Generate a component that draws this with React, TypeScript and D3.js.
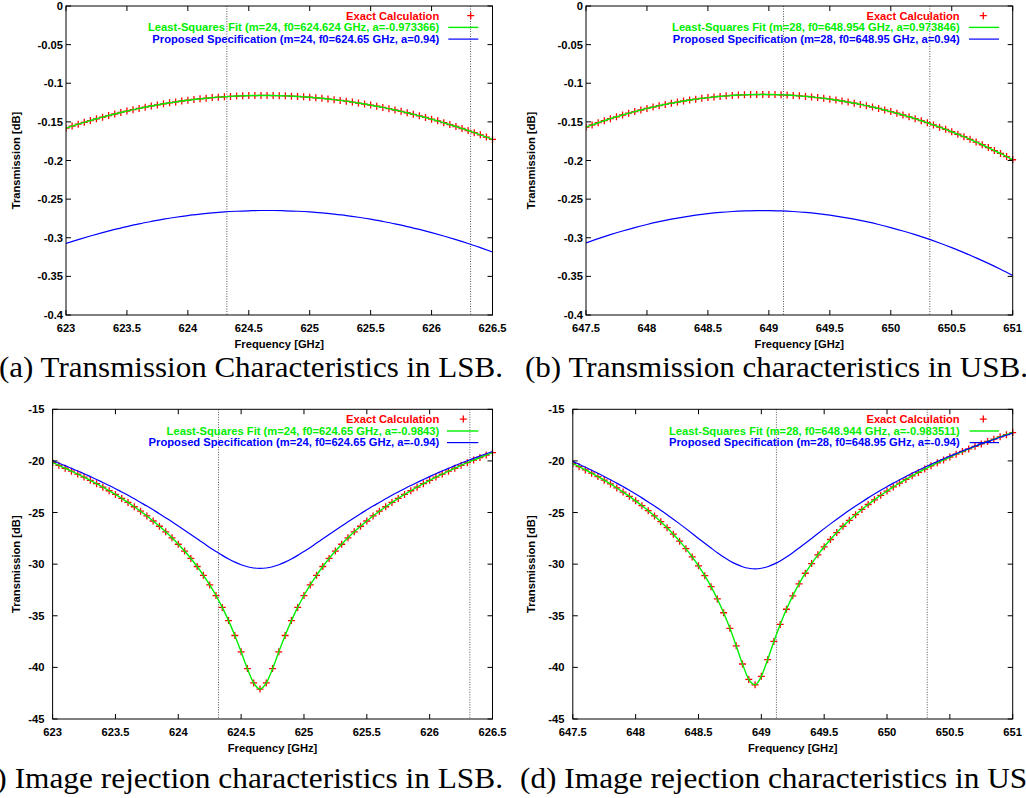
import React from 'react';
import * as d3 from 'd3';

const W = 1026;
const H = 798;
const SANS = "'Liberation Sans', Arial, Helvetica, sans-serif";
const SERIF = "'Liberation Serif', 'Times New Roman', serif";

// ---- tick labels / categories ----
const xTicksLSB = [623, 623.5, 624, 624.5, 625, 625.5, 626, 626.5];
const xTicksUSB = [647.5, 648, 648.5, 649, 649.5, 650, 650.5, 651];
const yTicksTrans = [0, -0.05, -0.1, -0.15, -0.2, -0.25, -0.3, -0.35, -0.4];
const yTicksRej = [-15, -20, -25, -30, -35, -40, -45];
const bandLSB = [624.32, 626.32];
const bandUSB = [649.12, 650.32];

// frequency grids (GHz): 0.05 GHz sampling for the exact calculation, 0.1 GHz for the spec lines of (a),(b)
const freqLSB = d3.range(71).map((i) => +(623 + i * 0.05).toFixed(2));
const freqUSB = d3.range(71).map((i) => +(647.5 + i * 0.05).toFixed(2));
const freqLSBc = d3.range(36).map((i) => +(623 + i * 0.1).toFixed(2));
const freqUSBc = d3.range(36).map((i) => +(647.5 + i * 0.1).toFixed(2));

// ---- (a) Transmission in LSB [dB] ----
const transLSBExact = [
  -0.1581, -0.1555, -0.1530, -0.1506, -0.1483, -0.1460, -0.1439, -0.1418, -0.1398, -0.1378,
  -0.1360, -0.1342, -0.1326, -0.1310, -0.1294, -0.1280, -0.1266, -0.1253, -0.1242, -0.1230,
  -0.1220, -0.1210, -0.1202, -0.1194, -0.1186, -0.1180, -0.1175, -0.1170, -0.1166, -0.1163,
  -0.1160, -0.1159, -0.1158, -0.1158, -0.1159, -0.1161, -0.1163, -0.1167, -0.1171, -0.1176,
  -0.1181, -0.1188, -0.1195, -0.1203, -0.1212, -0.1222, -0.1232, -0.1244, -0.1256, -0.1269,
  -0.1283, -0.1297, -0.1313, -0.1329, -0.1346, -0.1364, -0.1382, -0.1402, -0.1422, -0.1443,
  -0.1465, -0.1487, -0.1511, -0.1535, -0.1560, -0.1586, -0.1612, -0.1640, -0.1668, -0.1697,
  -0.1727,
];
const transLSBFit = transLSBExact;
const transLSBSpec = [
  -0.3074, -0.3024, -0.2977, -0.2933, -0.2892, -0.2855, -0.2820, -0.2789, -0.2760, -0.2735,
  -0.2713, -0.2695, -0.2679, -0.2666, -0.2657, -0.2651, -0.2647, -0.2647, -0.2651, -0.2657,
  -0.2666, -0.2679, -0.2695, -0.2713, -0.2735, -0.2760, -0.2789, -0.2820, -0.2855, -0.2892,
  -0.2933, -0.2977, -0.3024, -0.3074, -0.3128, -0.3184,
];

// ---- (b) Transmission in USB [dB] ----
const transUSBExact = [
  -0.1568, -0.1539, -0.1511, -0.1485, -0.1459, -0.1434, -0.1411, -0.1388, -0.1367, -0.1346,
  -0.1326, -0.1308, -0.1290, -0.1274, -0.1258, -0.1244, -0.1230, -0.1217, -0.1206, -0.1195,
  -0.1186, -0.1177, -0.1170, -0.1163, -0.1158, -0.1153, -0.1150, -0.1147, -0.1146, -0.1145,
  -0.1146, -0.1147, -0.1150, -0.1153, -0.1158, -0.1163, -0.1170, -0.1177, -0.1186, -0.1195,
  -0.1206, -0.1217, -0.1230, -0.1244, -0.1258, -0.1274, -0.1290, -0.1308, -0.1326, -0.1346,
  -0.1367, -0.1388, -0.1411, -0.1434, -0.1459, -0.1485, -0.1511, -0.1539, -0.1568, -0.1597,
  -0.1628, -0.1660, -0.1692, -0.1726, -0.1761, -0.1796, -0.1833, -0.1871, -0.1909, -0.1949,
  -0.1990,
];
const transUSBFit = transUSBExact;
const transUSBSpec = [
  -0.3068, -0.3012, -0.2960, -0.2912, -0.2868, -0.2828, -0.2792, -0.2760, -0.2732, -0.2708,
  -0.2688, -0.2672, -0.2660, -0.2652, -0.2648, -0.2648, -0.2652, -0.2660, -0.2672, -0.2688,
  -0.2708, -0.2732, -0.2760, -0.2792, -0.2828, -0.2868, -0.2912, -0.2960, -0.3012, -0.3068,
  -0.3128, -0.3192, -0.3260, -0.3332, -0.3408, -0.3488,
];

// ---- (c) Image rejection in LSB [dB] ----
const rejLSBExact = [
  -20.17, -20.43, -20.71, -20.99, -21.27, -21.57, -21.88, -22.20, -22.54, -22.89,
  -23.25, -23.63, -24.02, -24.44, -24.87, -25.33, -25.82, -26.33, -26.87, -27.45,
  -28.07, -28.73, -29.45, -30.23, -31.08, -32.01, -33.04, -34.19, -35.47, -36.91,
  -38.49, -40.12, -41.51, -42.10, -41.51, -40.12, -38.49, -36.91, -35.47, -34.19,
  -33.04, -32.01, -31.08, -30.23, -29.45, -28.73, -28.07, -27.45, -26.87, -26.33,
  -25.82, -25.33, -24.87, -24.44, -24.02, -23.63, -23.25, -22.89, -22.54, -22.20,
  -21.88, -21.57, -21.27, -20.99, -20.71, -20.43, -20.17, -19.92, -19.67, -19.43,
  -19.20,
];
const rejLSBFit = rejLSBExact;
const rejLSBSpec = [
  -19.98, -20.22, -20.46, -20.72, -20.98, -21.24, -21.52, -21.80, -22.09, -22.38,
  -22.69, -23.01, -23.33, -23.67, -24.02, -24.37, -24.74, -25.11, -25.50, -25.90,
  -26.30, -26.71, -27.13, -27.55, -27.96, -28.38, -28.77, -29.15, -29.50, -29.80,
  -30.06, -30.25, -30.37, -30.41, -30.37, -30.25, -30.06, -29.80, -29.50, -29.15,
  -28.77, -28.38, -27.96, -27.55, -27.13, -26.71, -26.30, -25.90, -25.50, -25.11,
  -24.74, -24.37, -24.02, -23.67, -23.33, -23.01, -22.69, -22.38, -22.09, -21.80,
  -21.52, -21.24, -20.98, -20.72, -20.46, -20.22, -19.98, -19.75, -19.52, -19.30,
  -19.08,
];

// ---- (d) Image rejection in USB [dB] ----
const rejUSBExact = [
  -20.26, -20.56, -20.87, -21.19, -21.52, -21.87, -22.23, -22.62, -23.02, -23.43,
  -23.87, -24.34, -24.82, -25.33, -25.89, -26.47, -27.10, -27.77, -28.50, -29.30,
  -30.16, -31.12, -32.18, -33.37, -34.71, -36.22, -37.91, -39.67, -41.17, -41.69,
  -40.87, -39.25, -37.49, -35.84, -34.37, -33.07, -31.91, -30.88, -29.94, -29.10,
  -28.32, -27.61, -26.94, -26.33, -25.75, -25.21, -24.70, -24.22, -23.77, -23.33,
  -22.92, -22.52, -22.15, -21.79, -21.44, -21.11, -20.79, -20.48, -20.18, -19.90,
  -19.62, -19.35, -19.09, -18.84, -18.59, -18.35, -18.12, -17.89, -17.67, -17.46,
  -17.25,
];
const rejUSBFit = rejUSBExact;
const rejUSBSpec = [
  -20.06, -20.33, -20.61, -20.90, -21.20, -21.51, -21.83, -22.15, -22.49, -22.84,
  -23.21, -23.58, -23.97, -24.37, -24.78, -25.21, -25.65, -26.10, -26.56, -27.03,
  -27.51, -27.98, -28.44, -28.89, -29.31, -29.69, -30.00, -30.25, -30.40, -30.45,
  -30.40, -30.25, -30.00, -29.69, -29.31, -28.89, -28.44, -27.98, -27.51, -27.03,
  -26.56, -26.10, -25.65, -25.21, -24.78, -24.37, -23.97, -23.58, -23.21, -22.84,
  -22.49, -22.15, -21.83, -21.51, -21.20, -20.90, -20.61, -20.33, -20.06, -19.79,
  -19.54, -19.29, -19.04, -18.81, -18.57, -18.35, -18.13, -17.92, -17.71, -17.51,
  -17.31,
];

// ---- legend texts ----
const legendExact = 'Exact Calculation';
const legendsA = ['Least-Squares Fit (m=24, f0=624.624 GHz, a=-0.973366)', 'Proposed Specification (m=24, f0=624.65 GHz, a=0.94)'];
const legendsB = ['Least-Squares Fit (m=28, f0=648.954 GHz, a=0.973846)', 'Proposed Specification (m=28, f0=648.95 GHz, a=0.94)'];
const legendsC = ['Least-Squares Fit (m=24, f0=624.65 GHz, a=-0.9843)', 'Proposed Specification (m=24, f0=624.65 GHz, a=-0.94)'];
const legendsD = ['Least-Squares Fit (m=28, f0=648.944 GHz, a=-0.983511)', 'Proposed Specification (m=28, f0=648.95 GHz, a=-0.94)'];

const captions = [
  '(a) Transmission Characteristics in LSB.',
  '(b) Transmission characteristics in USB.',
  '(c) Image rejection characteristics in LSB.',
  '(d) Image rejection characteristics in USB.',
];

const RED = '#ff0000';
const GREEN = '#00ee00';
const BLUE = '#0000ff';

type PanelDef = {
  id: string;
  left: number; right: number; top: number; bottom: number;
  xDomain: [number, number]; yDomain: [number, number];
  xTicks: number[]; yTicks: number[]; band: number[];
  freq: number[]; exact: number[]; fit: number[];
  freqSpec: number[]; spec: number[];
  legends: string[];
  labelRight: number; yLabelX: number;
  legRight: number; legBase: number[]; legLine: [number, number]; legMarkX: number;
  caption: string; capX: number; capY: number; capLen: number;
};

const panels: PanelDef[] = [
  {
    id: 'a', left: 66, right: 492.5, top: 6, bottom: 315,
    xDomain: [623, 626.5], yDomain: [0, -0.4], xTicks: xTicksLSB, yTicks: yTicksTrans, band: bandLSB,
    freq: freqLSB, exact: transLSBExact, fit: transLSBFit, freqSpec: freqLSBc, spec: transLSBSpec,
    legends: legendsA, labelRight: 63, yLabelX: 15.7,
    legRight: 439.3, legBase: [19.5, 31.2, 42.9], legLine: [448.3, 478.3], legMarkX: 470.7,
    caption: captions[0], capX: -1, capY: 376.5, capLen: 504,
  },
  {
    id: 'b', left: 586, right: 1012.7, top: 6, bottom: 315,
    xDomain: [647.5, 651], yDomain: [0, -0.4], xTicks: xTicksUSB, yTicks: yTicksTrans, band: bandUSB,
    freq: freqUSB, exact: transUSBExact, fit: transUSBFit, freqSpec: freqUSBc, spec: transUSBSpec,
    legends: legendsB, labelRight: 583, yLabelX: 530.8,
    legRight: 959.7, legBase: [19.5, 31.2, 42.9], legLine: [969, 999], legMarkX: 983.3,
    caption: captions[1], capX: 525, capY: 376.5, capLen: 503,
  },
  {
    id: 'c', left: 52.6, right: 492.5, top: 409.3, bottom: 719,
    xDomain: [623, 626.5], yDomain: [-15, -45], xTicks: xTicksLSB, yTicks: yTicksRej, band: bandLSB,
    freq: freqLSB, exact: rejLSBExact, fit: rejLSBFit, freqSpec: freqLSB, spec: rejLSBSpec,
    legends: legendsC, labelRight: 44.5, yLabelX: 16.3,
    legRight: 439.3, legBase: [422.9, 434.8, 446.4], legLine: [447, 478.3], legMarkX: 463.3,
    caption: captions[2], capX: -28, capY: 788, capLen: 531,
  },
  {
    id: 'd', left: 572.8, right: 1012.7, top: 409.3, bottom: 719,
    xDomain: [647.5, 651], yDomain: [-15, -45], xTicks: xTicksUSB, yTicks: yTicksRej, band: bandUSB,
    freq: freqUSB, exact: rejUSBExact, fit: rejUSBFit, freqSpec: freqUSB, spec: rejUSBSpec,
    legends: legendsD, labelRight: 564.5, yLabelX: 531,
    legRight: 959.7, legBase: [422.9, 434.8, 446.4], legLine: [969.7, 999], legMarkX: 983.3,
    caption: captions[3], capX: 520, capY: 788, capLen: 536,
  },
];

function plusPath(cx: number, cy: number, r: number) {
  return `M${cx - r},${cy}H${cx + r}M${cx},${cy - r}V${cy + r}`;
}

function Panel({ p }: { p: PanelDef }) {
  const x = d3.scaleLinear().domain(p.xDomain).range([p.left, p.right]);
  const y = d3.scaleLinear().domain(p.yDomain).range([p.top, p.bottom]);
  const line = d3
    .line<[number, number]>()
    .x((d) => x(d[0]))
    .y((d) => y(d[1]))
    .curve(d3.curveMonotoneX);
  const exactPts: [number, number][] = p.freq.map((f, i) => [f, p.exact[i]]);
  const fitPts: [number, number][] = p.freq.map((f, i) => [f, p.fit[i]]);
  const specPts: [number, number][] = p.freqSpec.map((f, i) => [f, p.spec[i]]);
  const markers = exactPts.map((d) => plusPath(x(d[0]), y(d[1]), 3.5)).join('');
  const tick = 5;
  const clip = `clip-${p.id}`;
  const fs = 11.2;
  return (
    <g>
      <defs>
        <clipPath id={clip}>
          <rect x={p.left} y={p.top - 4} width={p.right - p.left + 4} height={p.bottom - p.top + 8} />
        </clipPath>
      </defs>
      {/* band markers */}
      {p.band.map((f) => (
        <line key={f} x1={x(f)} x2={x(f)} y1={p.top} y2={p.bottom} stroke="#555" strokeWidth={1} strokeDasharray="1,1.5" />
      ))}
      <g clipPath={`url(#${clip})`}>
        <path d={markers} stroke={RED} strokeWidth={1.3} fill="none" />
        <path d={line(fitPts) || ''} stroke={GREEN} strokeWidth={1.4} fill="none" />
        <path d={line(specPts) || ''} stroke={BLUE} strokeWidth={1.2} fill="none" />
      </g>
      {/* frame */}
      <rect x={p.left} y={p.top} width={p.right - p.left} height={p.bottom - p.top} fill="none" stroke="#000" strokeWidth={1} />
      {/* ticks */}
      {p.xTicks.map((t) => (
        <g key={'x' + t}>
          <line x1={x(t)} x2={x(t)} y1={p.bottom} y2={p.bottom - tick} stroke="#000" />
          <line x1={x(t)} x2={x(t)} y1={p.top} y2={p.top + tick} stroke="#000" />
          <text x={x(t)} y={p.bottom + 16.5} textAnchor="middle" fontFamily={SANS} fontWeight="bold" fontSize={fs} fill="#000">
            {String(t)}
          </text>
        </g>
      ))}
      {p.yTicks.map((t) => (
        <g key={'y' + t}>
          <line x1={p.left} x2={p.left + tick} y1={y(t)} y2={y(t)} stroke="#000" />
          <line x1={p.right} x2={p.right - tick} y1={y(t)} y2={y(t)} stroke="#000" />
          <text x={p.labelRight} y={y(t) + 4} textAnchor="end" fontFamily={SANS} fontWeight="bold" fontSize={fs} fill="#000">
            {String(t)}
          </text>
        </g>
      ))}
      {/* axis titles */}
      <text x={(p.left + p.right) / 2} y={p.bottom + 32.5} textAnchor="middle" fontFamily={SANS} fontWeight="bold" fontSize={fs} fill="#000">
        Frequency [GHz]
      </text>
      <text
        transform={`translate(${p.yLabelX},${(p.top + p.bottom) / 2}) rotate(-90)`}
        dy="0.36em"
        textAnchor="middle"
        fontFamily={SANS}
        fontWeight="bold"
        fontSize={fs}
        fill="#000"
      >
        Transmission [dB]
      </text>
      {/* legend */}
      <text x={p.legRight} y={p.legBase[0]} textAnchor="end" fontFamily={SANS} fontWeight="bold" fontSize={fs} fill={RED}>
        {legendExact}
      </text>
      <path d={plusPath(p.legMarkX, p.legBase[0] - 3.8, 3.5)} stroke={RED} strokeWidth={1.3} fill="none" />
      <text x={p.legRight} y={p.legBase[1]} textAnchor="end" fontFamily={SANS} fontWeight="bold" fontSize={fs} fill={GREEN}>
        {p.legends[0]}
      </text>
      <line x1={p.legLine[0]} x2={p.legLine[1]} y1={p.legBase[1] - 3.8} y2={p.legBase[1] - 3.8} stroke={GREEN} strokeWidth={1.4} />
      <text x={p.legRight} y={p.legBase[2]} textAnchor="end" fontFamily={SANS} fontWeight="bold" fontSize={fs} fill={BLUE}>
        {p.legends[1]}
      </text>
      <line x1={p.legLine[0]} x2={p.legLine[1]} y1={p.legBase[2] - 3.8} y2={p.legBase[2] - 3.8} stroke={BLUE} strokeWidth={1.2} />
      {/* caption */}
      <text x={p.capX} y={p.capY} fontFamily={SERIF} fontSize={28.5} fill="#000" textLength={p.capLen} lengthAdjust="spacingAndGlyphs">
        {p.caption}
      </text>
    </g>
  );
}

export default function App() {
  return (
    <svg
      width={W}
      height={H}
      viewBox={`0 0 ${W} ${H}`}
      style={{ position: 'absolute', left: 0, top: 0, background: '#fff', overflow: 'hidden' }}
    >
      <rect x={0} y={0} width={W} height={H} fill="#fff" />
      {panels.map((p) => (
        <Panel key={p.id} p={p} />
      ))}
    </svg>
  );
}
